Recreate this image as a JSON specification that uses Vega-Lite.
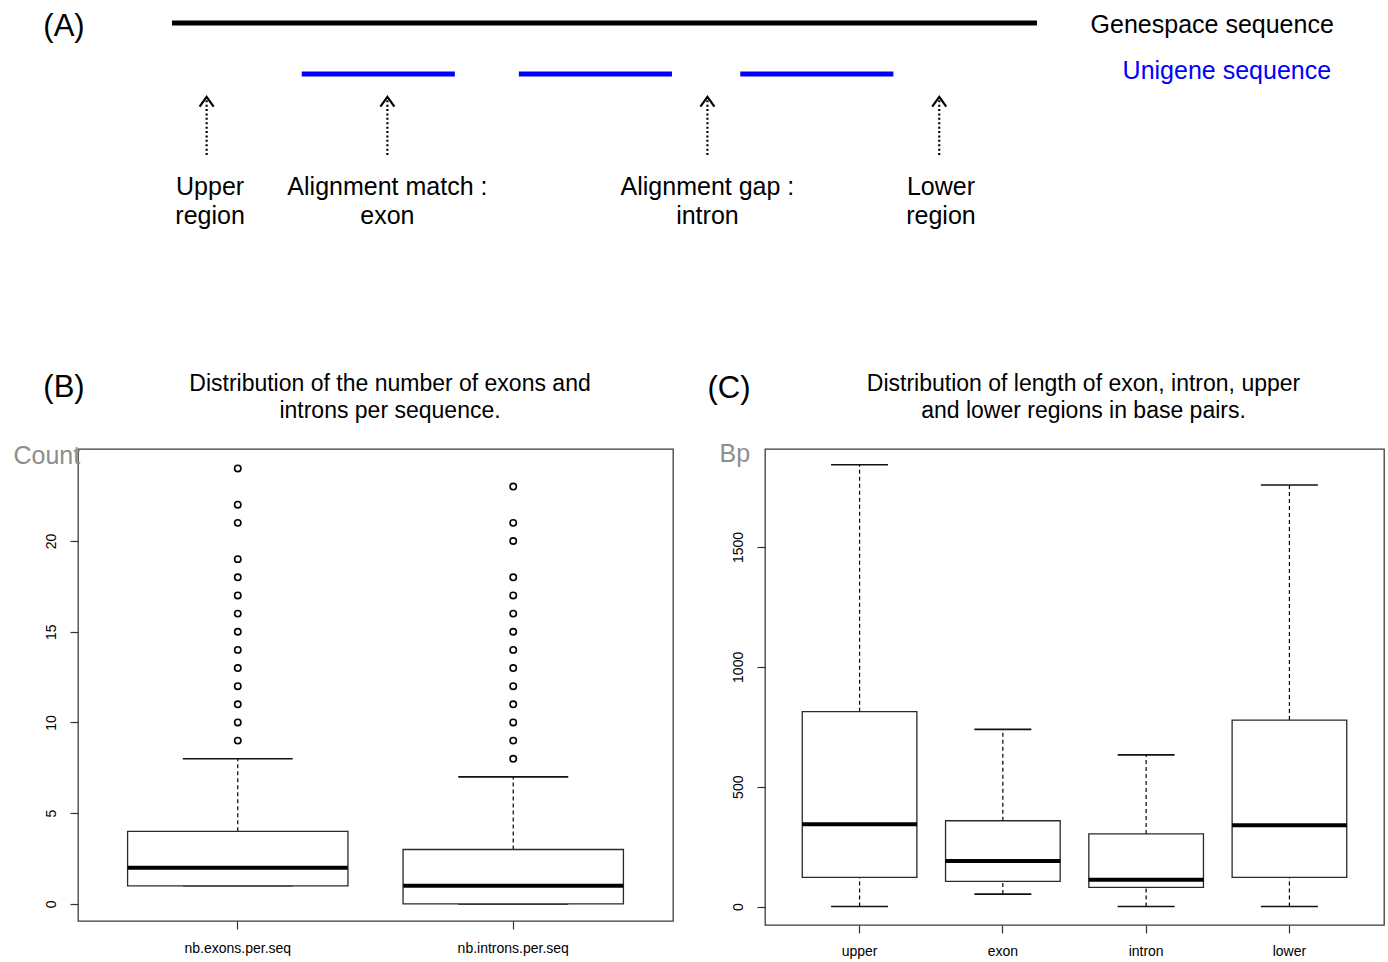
{
  "$schema": "https://vega.github.io/schema/vega-lite/v6.json",
  "padding": {"left": 12, "top": 0, "right": 0, "bottom": 0},
  "autosize": {"type": "pad"},
  "background": "white",
  "columns": 2,
  "bounds": "flush",
  "align": "each",
  "spacing": {"row": 209, "column": 92},
  "config": {
    "font": "Liberation Sans",
    "view": {"stroke": "#3c3c3c", "strokeWidth": 1.3},
    "axis": {"grid": false, "domain": false, "tickColor": "#333", "tickSize": 8, "tickWidth": 1.2, "labelFont": "Liberation Sans", "labelFontSize": 14, "labelColor": "#000", "titleFont": "Liberation Sans", "titleFontWeight": "normal"},
    "title": {"font": "Liberation Sans", "fontSize": 23, "fontWeight": "normal", "color": "#000", "lineHeight": 27, "anchor": "middle", "baseline": "bottom"}
  },
  "datasets": {
    "seqLines": [
      {"sequence": "Genespace sequence", "start": 0, "end": 1000, "level": 9.04},
      {"sequence": "Unigene sequence", "start": 150, "end": 327, "level": 6.92},
      {"sequence": "Unigene sequence", "start": 401, "end": 578, "level": 6.92},
      {"sequence": "Unigene sequence", "start": 657, "end": 834, "level": 6.92}
    ],
    "seqLabels": [
      {"sequence": "Genespace sequence", "pos": 1062, "level": 8.94},
      {"sequence": "Unigene sequence", "pos": 1099, "level": 7.06}
    ],
    "regions": [
      {"label": "Upper\nregion", "pos": 40, "labelPos": 44},
      {"label": "Alignment match :\nexon", "pos": 249, "labelPos": 249},
      {"label": "Alignment gap :\nintron", "pos": 619, "labelPos": 619},
      {"label": "Lower\nregion", "pos": 887, "labelPos": 889}
    ],
    "panelLabels": [
      {"panel": "(A)", "pos": -124.9, "level": 8.875},
      {"panel": "(B)", "pos": -124.9, "level": -6.17},
      {"panel": "(C)", "pos": 643.9, "level": -6.21}
    ],
    "countBox": [
      {"cat": "nb.exons.per.seq", "lo": 1, "q1": 1, "med": 2, "q3": 4, "hi": 8},
      {"cat": "nb.introns.per.seq", "lo": 0, "q1": 0, "med": 1, "q3": 3, "hi": 7}
    ],
    "countOut": [
      {"cat": "nb.exons.per.seq", "value": 9}, {"cat": "nb.exons.per.seq", "value": 10}, {"cat": "nb.exons.per.seq", "value": 11},
      {"cat": "nb.exons.per.seq", "value": 12}, {"cat": "nb.exons.per.seq", "value": 13}, {"cat": "nb.exons.per.seq", "value": 14},
      {"cat": "nb.exons.per.seq", "value": 15}, {"cat": "nb.exons.per.seq", "value": 16}, {"cat": "nb.exons.per.seq", "value": 17},
      {"cat": "nb.exons.per.seq", "value": 18}, {"cat": "nb.exons.per.seq", "value": 19}, {"cat": "nb.exons.per.seq", "value": 21},
      {"cat": "nb.exons.per.seq", "value": 22}, {"cat": "nb.exons.per.seq", "value": 24},
      {"cat": "nb.introns.per.seq", "value": 8}, {"cat": "nb.introns.per.seq", "value": 9}, {"cat": "nb.introns.per.seq", "value": 10},
      {"cat": "nb.introns.per.seq", "value": 11}, {"cat": "nb.introns.per.seq", "value": 12}, {"cat": "nb.introns.per.seq", "value": 13},
      {"cat": "nb.introns.per.seq", "value": 14}, {"cat": "nb.introns.per.seq", "value": 15}, {"cat": "nb.introns.per.seq", "value": 16},
      {"cat": "nb.introns.per.seq", "value": 17}, {"cat": "nb.introns.per.seq", "value": 18}, {"cat": "nb.introns.per.seq", "value": 20},
      {"cat": "nb.introns.per.seq", "value": 21}, {"cat": "nb.introns.per.seq", "value": 23}
    ],
    "bpBox": [
      {"cat": "upper", "lo": 0, "q1": 122, "med": 343, "q3": 813, "hi": 1843},
      {"cat": "exon", "lo": 52, "q1": 105, "med": 190, "q3": 358, "hi": 739},
      {"cat": "intron", "lo": 0, "q1": 80, "med": 112, "q3": 303, "hi": 633},
      {"cat": "lower", "lo": 0, "q1": 122, "med": 339, "q3": 778, "hi": 1759}
    ]
  },
  "concat": [
    {
      "width": 595, "height": 240,
      "view": {"stroke": null},
      "layer": [
        {
          "data": {"name": "seqLines"},
          "mark": {"type": "rule", "strokeWidth": 5, "strokeCap": "butt"},
          "encoding": {
            "x": {"field": "start", "type": "quantitative", "scale": {"domain": [-108.7, 579.2], "nice": false, "zero": false}, "axis": null},
            "x2": {"field": "end"},
            "y": {"field": "level", "type": "quantitative", "scale": {"domain": [0, 10], "nice": false, "zero": false}, "axis": null},
            "color": {"field": "sequence", "type": "nominal", "scale": {"domain": ["Genespace sequence", "Unigene sequence"], "range": ["#000000", "#0000ff"]}, "legend": null}
          }
        },
        {
          "data": {"name": "seqLabels"},
          "mark": {"type": "text", "align": "left", "baseline": "middle", "fontSize": 25},
          "encoding": {
            "x": {"field": "pos", "type": "quantitative", "scale": {"domain": [-108.7, 579.2], "nice": false, "zero": false}, "axis": null},
            "y": {"field": "level", "type": "quantitative", "scale": {"domain": [0, 10], "nice": false, "zero": false}, "axis": null},
            "text": {"field": "sequence"},
            "color": {"field": "sequence", "type": "nominal", "legend": null}
          }
        },
        {
          "data": {"name": "regions"},
          "mark": {"type": "rule", "strokeWidth": 2.2, "strokeDash": [2, 2.4], "color": "#000"},
          "encoding": {
            "x": {"field": "pos", "type": "quantitative", "scale": {"domain": [-108.7, 579.2], "nice": false, "zero": false}, "axis": null},
            "y": {"datum": 3.54, "type": "quantitative", "scale": {"domain": [0, 10], "nice": false, "zero": false}, "axis": null},
            "y2": {"datum": 5.88}
          }
        },
        {
          "data": {"name": "regions"},
          "mark": {"type": "point", "shape": "M-1,0.7L0,-0.7L1,0.7", "size": 196, "filled": false, "strokeWidth": 2.2, "color": "#000", "opacity": 1},
          "encoding": {
            "x": {"field": "pos", "type": "quantitative", "scale": {"domain": [-108.7, 579.2], "nice": false, "zero": false}, "axis": null},
            "y": {"datum": 5.76, "type": "quantitative", "scale": {"domain": [0, 10], "nice": false, "zero": false}, "axis": null}
          }
        },
        {
          "data": {"name": "regions"},
          "mark": {"type": "text", "align": "center", "baseline": "middle", "fontSize": 25, "lineHeight": 29, "lineBreak": "\n", "color": "#000"},
          "encoding": {
            "x": {"field": "labelPos", "type": "quantitative", "scale": {"domain": [-108.7, 579.2], "nice": false, "zero": false}, "axis": null},
            "y": {"datum": 2.19, "type": "quantitative", "scale": {"domain": [0, 10], "nice": false, "zero": false}, "axis": null},
            "text": {"field": "label"}
          }
        },
        {
          "data": {"name": "panelLabels"},
          "mark": {"type": "text", "align": "center", "baseline": "middle", "fontSize": 31, "color": "#000"},
          "encoding": {
            "x": {"field": "pos", "type": "quantitative", "scale": {"domain": [-108.7, 579.2], "nice": false, "zero": false}, "axis": null},
            "y": {"field": "level", "type": "quantitative", "scale": {"domain": [0, 10], "nice": false, "zero": false}, "axis": null},
            "text": {"field": "panel"}
          }
        }
      ]
    },
    {
      "width": 619, "height": 240,
      "view": {"stroke": null},
      "data": {"values": [{"blank": ""}]},
      "mark": {"type": "text"},
      "encoding": {"text": {"field": "blank"}}
    },
    {
      "width": 595, "height": 472,
      "title": {"text": ["Distribution of the number of exons and", "introns per sequence."], "dx": 14.5, "offset": 20},
      "data": {"name": "countBox"},
      "encoding": {
        "x": {"field": "cat", "type": "nominal", "sort": ["nb.exons.per.seq", "nb.introns.per.seq"],
              "scale": {"type": "band", "paddingInner": 0.2, "paddingOuter": 0.18},
              "axis": {"labelAngle": 0, "labelPadding": 12, "title": null}}
      },
      "layer": [
        {
          "mark": {"type": "rule", "strokeDash": [4, 3], "strokeWidth": 1.2, "color": "#000"},
          "encoding": {
            "y": {"field": "q3", "type": "quantitative", "scale": {"domain": [-0.94, 25.07], "nice": false, "zero": false},
                  "axis": {"title": "Count", "values": [0, 5, 10, 15, 20], "format": "d", "labelAngle": -90, "labelPadding": 12, "titleAngle": 0, "titleX": -65, "titleY": 6, "titleAlign": "left", "titleBaseline": "middle", "titleFontSize": 25, "titleColor": "#8e8e8e"}},
            "y2": {"field": "hi"}
          }
        },
        {
          "mark": {"type": "rule", "strokeDash": [4, 3], "strokeWidth": 1.2, "color": "#000"},
          "encoding": {
            "y": {"field": "lo", "type": "quantitative", "scale": {"domain": [-0.94, 25.07], "nice": false, "zero": false}},
            "y2": {"field": "q1"}
          }
        },
        {
          "mark": {"type": "tick", "size": 110, "thickness": 1.6, "color": "#111", "opacity": 1},
          "encoding": {"y": {"field": "hi", "type": "quantitative", "scale": {"domain": [-0.94, 25.07], "nice": false, "zero": false}}}
        },
        {
          "mark": {"type": "tick", "size": 110, "thickness": 1.6, "color": "#111", "opacity": 1},
          "encoding": {"y": {"field": "lo", "type": "quantitative", "scale": {"domain": [-0.94, 25.07], "nice": false, "zero": false}}}
        },
        {
          "mark": {"type": "bar", "fill": "#fff", "stroke": "#2a2a2a", "strokeWidth": 1.3},
          "encoding": {
            "y": {"field": "q1", "type": "quantitative", "scale": {"domain": [-0.94, 25.07], "nice": false, "zero": false}},
            "y2": {"field": "q3"}
          }
        },
        {
          "mark": {"type": "tick", "size": 220, "thickness": 4, "color": "#000", "opacity": 1},
          "encoding": {"y": {"field": "med", "type": "quantitative", "scale": {"domain": [-0.94, 25.07], "nice": false, "zero": false}}}
        },
        {
          "data": {"name": "countOut"},
          "mark": {"type": "point", "shape": "circle", "filled": false, "size": 40, "strokeWidth": 1.6, "color": "#000", "opacity": 1},
          "encoding": {"y": {"field": "value", "type": "quantitative", "scale": {"domain": [-0.94, 25.07], "nice": false, "zero": false}}}
        }
      ]
    },
    {
      "width": 619, "height": 476,
      "title": {"text": ["Distribution of length of exon, intron, upper", "and lower regions in base pairs."], "dx": 9, "offset": 18},
      "data": {"name": "bpBox"},
      "encoding": {
        "x": {"field": "cat", "type": "nominal", "sort": ["upper", "exon", "intron", "lower"],
              "scale": {"type": "band", "paddingInner": 0.2, "paddingOuter": 0.26},
              "axis": {"labelAngle": 0, "labelPadding": 11, "title": null}}
      },
      "layer": [
        {
          "mark": {"type": "rule", "strokeDash": [4, 3], "strokeWidth": 1.2, "color": "#000"},
          "encoding": {
            "y": {"field": "q3", "type": "quantitative", "scale": {"domain": [-77, 1909], "nice": false, "zero": false},
                  "axis": {"title": "Bp", "values": [0, 500, 1000, 1500], "format": "d", "labelAngle": -90, "labelPadding": 12, "titleAngle": 0, "titleX": -46, "titleY": 4, "titleAlign": "left", "titleBaseline": "middle", "titleFontSize": 25, "titleColor": "#8e8e8e"}},
            "y2": {"field": "hi"}
          }
        },
        {
          "mark": {"type": "rule", "strokeDash": [4, 3], "strokeWidth": 1.2, "color": "#000"},
          "encoding": {
            "y": {"field": "lo", "type": "quantitative", "scale": {"domain": [-77, 1909], "nice": false, "zero": false}},
            "y2": {"field": "q1"}
          }
        },
        {
          "mark": {"type": "tick", "size": 57, "thickness": 1.6, "color": "#111", "opacity": 1},
          "encoding": {"y": {"field": "hi", "type": "quantitative", "scale": {"domain": [-77, 1909], "nice": false, "zero": false}}}
        },
        {
          "mark": {"type": "tick", "size": 57, "thickness": 1.6, "color": "#111", "opacity": 1},
          "encoding": {"y": {"field": "lo", "type": "quantitative", "scale": {"domain": [-77, 1909], "nice": false, "zero": false}}}
        },
        {
          "mark": {"type": "bar", "fill": "#fff", "stroke": "#2a2a2a", "strokeWidth": 1.3},
          "encoding": {
            "y": {"field": "q1", "type": "quantitative", "scale": {"domain": [-77, 1909], "nice": false, "zero": false}},
            "y2": {"field": "q3"}
          }
        },
        {
          "mark": {"type": "tick", "size": 115, "thickness": 4, "color": "#000", "opacity": 1},
          "encoding": {"y": {"field": "med", "type": "quantitative", "scale": {"domain": [-77, 1909], "nice": false, "zero": false}}}
        }
      ]
    }
  ]
}
